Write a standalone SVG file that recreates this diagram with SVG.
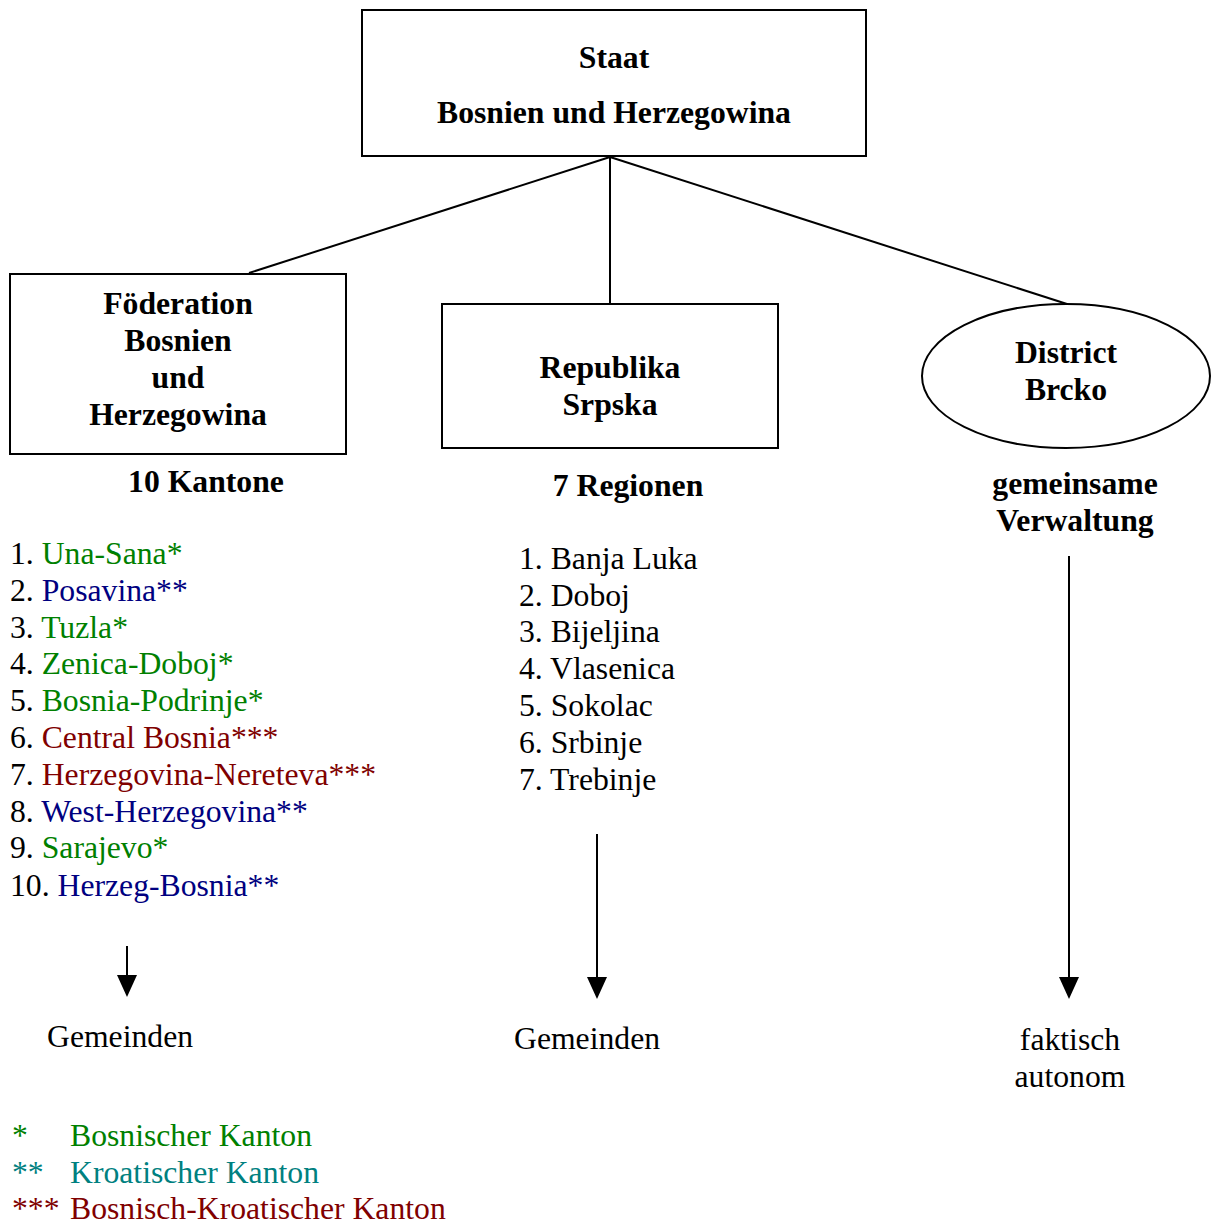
<svg xmlns="http://www.w3.org/2000/svg" width="1212" height="1224" viewBox="0 0 1212 1224">
<style>
text{font-family:"Liberation Serif","Times New Roman",serif;font-size:31.7px;fill:#000}
.b{font-weight:bold}
.c{text-anchor:middle}
.g{fill:#008000}
.n{fill:#000080}
.r{fill:#800000}
.t{fill:#008080}
.box{fill:#fff;stroke:#000;stroke-width:2}
.ln{stroke:#000;stroke-width:2;fill:none}
</style>
<rect width="1212" height="1224" fill="#fff"/>
<g id="connectors">
<line class="ln" x1="610" y1="157" x2="249" y2="273"/>
<line class="ln" x1="610" y1="157" x2="610" y2="303"/>
<line class="ln" x1="610" y1="157" x2="1067" y2="304"/>
<line class="ln" x1="127" y1="946" x2="127" y2="975"/>
<path d="M117,975 L137,975 L127,997 z" fill="#000"/>
<line class="ln" x1="597" y1="834" x2="597" y2="977"/>
<path d="M587,977 L607,977 L597,999 z" fill="#000"/>
<line class="ln" x1="1069" y1="556" x2="1069" y2="977"/>
<path d="M1059,977 L1079,977 L1069,999 z" fill="#000"/>
</g>
<g id="staat">
<rect class="box" x="362" y="10" width="504" height="146"/>
<text class="b c" x="614" y="68">Staat</text>
<text class="b c" x="614" y="123">Bosnien und Herzegowina</text>
</g>
<g id="foederation">
<rect class="box" x="10" y="274" width="336" height="180"/>
<text class="b c" x="178" y="314">Föderation</text>
<text class="b c" x="178" y="351">Bosnien</text>
<text class="b c" x="178" y="388">und</text>
<text class="b c" x="178" y="425">Herzegowina</text>
</g>
<g id="republika">
<rect class="box" x="442" y="304" width="336" height="144"/>
<text class="b c" x="610" y="378">Republika</text>
<text class="b c" x="610" y="415">Srpska</text>
</g>
<g id="brcko">
<ellipse class="box" cx="1066" cy="376" rx="144" ry="72"/>
<text class="b c" x="1066" y="363">District</text>
<text class="b c" x="1066" y="400">Brcko</text>
</g>
<g id="kantone">
<text class="b c" x="206" y="492">10 Kantone</text>
<text x="10" y="564">1. <tspan class="g">Una-Sana*</tspan></text>
<text x="10" y="601">2. <tspan class="n">Posavina**</tspan></text>
<text x="10" y="638">3. <tspan class="g">Tuzla*</tspan></text>
<text x="10" y="674">4. <tspan class="g">Zenica-Doboj*</tspan></text>
<text x="10" y="711">5. <tspan class="g">Bosnia-Podrinje*</tspan></text>
<text x="10" y="748">6. <tspan class="r">Central Bosnia***</tspan></text>
<text x="10" y="785">7. <tspan class="r">Herzegovina-Nereteva***</tspan></text>
<text x="10" y="822">8. <tspan class="n">West-Herzegovina**</tspan></text>
<text x="10" y="858">9. <tspan class="g">Sarajevo*</tspan></text>
<text x="10" y="896">10. <tspan class="n">Herzeg-Bosnia**</tspan></text>
<text x="47" y="1047">Gemeinden</text>
</g>
<g id="regionen">
<text class="b c" x="628" y="496">7 Regionen</text>
<text x="519" y="569">1. Banja Luka</text>
<text x="519" y="606">2. Doboj</text>
<text x="519" y="642">3. Bijeljina</text>
<text x="519" y="679">4. Vlasenica</text>
<text x="519" y="716">5. Sokolac</text>
<text x="519" y="753">6. Srbinje</text>
<text x="519" y="790">7. Trebinje</text>
<text x="514" y="1049">Gemeinden</text>
</g>
<g id="verwaltung">
<text class="b c" x="1075" y="494">gemeinsame</text>
<text class="b c" x="1075" y="531">Verwaltung</text>
<text class="c" x="1070" y="1050">faktisch</text>
<text class="c" x="1070" y="1087">autonom</text>
</g>
<g id="legend">
<text class="g" x="12" y="1146">*</text>
<text class="g" x="70" y="1146">Bosnischer Kanton</text>
<text class="t" x="12" y="1183">**</text>
<text class="t" x="70" y="1183">Kroatischer Kanton</text>
<text class="r" x="12" y="1219">***</text>
<text class="r" x="70" y="1219">Bosnisch-Kroatischer Kanton</text>
</g>
</svg>
